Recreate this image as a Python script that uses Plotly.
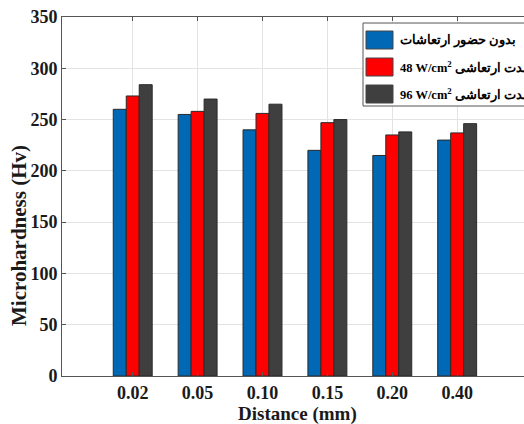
import plotly.graph_objects as go

# Measurement positions and microhardness readings (Hv)
distances = ["0.02", "0.05", "0.10", "0.15", "0.20", "0.40"]
hv_no_vibration = [260, 255, 240, 220, 215, 230]
hv_48 = [273, 258, 256, 247, 235, 237]
hv_96 = [284, 270, 265, 250, 238, 246]

series_names = [
    "بدون حضور ارتعاشات",
    "48 W/cm<sup>2</sup> شدت ارتعاشی",
    "96 W/cm<sup>2</sup> شدت ارتعاشی",
]
series_values = [hv_no_vibration, hv_48, hv_96]
series_colors = ["#0068b4", "#ff0000", "#3f3f3f"]

W, H = 524, 424
ML, MT, MB = 62, 17, 48
PLOT_R = W
FONT = "Liberation Serif, Times New Roman, DejaVu Serif, serif"

fig = go.Figure()
for name, vals, col in zip(series_names, series_values, series_colors):
    fig.add_trace(go.Bar(
        x=distances, y=vals, name=name,
        marker=dict(color=col, line=dict(color="#2a2a2a", width=1)),
        showlegend=False,
    ))

# Pixel -> paper coordinate helpers
def px_x(p):
    return (p - ML) / (PLOT_R - ML)

def px_y(p):
    return (H - MB - p) / (H - MB - MT)

# Legend drawn as a framed box with large swatches
shapes = [dict(type="rect", xref="paper", yref="paper",
               x0=px_x(363), x1=px_x(560), y0=px_y(106), y1=px_y(23),
               line=dict(color="#555555", width=1), fillcolor="white", layer="above")]
annotations = []
row_tops = [31, 58, 85]
for top, name, col in zip(row_tops, series_names, series_colors):
    shapes.append(dict(type="rect", xref="paper", yref="paper",
                       x0=px_x(366), x1=px_x(393), y0=px_y(top + 18), y1=px_y(top),
                       line=dict(color="#444444", width=1), fillcolor=col, layer="above"))
    annotations.append(dict(xref="paper", yref="paper", x=px_x(398), y=px_y(top + 9),
                            xanchor="left", yanchor="middle", text="<b>" + name + "</b>",
                            showarrow=False, font=dict(family=FONT, size=12.5, color="black")))

# Y-axis title
annotations.append(dict(xref="paper", yref="paper", x=px_x(19), y=px_y(236),
                        xanchor="center", yanchor="middle", textangle=-90,
                        text="<b>Microhardness (Hv)</b>", showarrow=False,
                        font=dict(family=FONT, size=21, color="#1a1a1a")))

# X-axis title
annotations.append(dict(xref="paper", yref="paper", x=px_x(297), y=px_y(414),
                        xanchor="center", yanchor="middle",
                        text="<b>Distance (mm)</b>", showarrow=False,
                        font=dict(family=FONT, size=19, color="#1a1a1a")))

fig.update_layout(
    template="none",
    width=W, height=H,
    margin=dict(l=ML, r=0, t=MT, b=MB, pad=0),
    paper_bgcolor="white", plot_bgcolor="white",
    barmode="group", bargap=0.4, bargroupgap=0,
    font=dict(family=FONT, color="black"),
    shapes=shapes, annotations=annotations,
)
fig.update_xaxes(
    type="category", range=[-1.09, 6.03], automargin=False,
    tickmode="array", tickvals=distances, ticktext=distances,
    showgrid=True, gridcolor="#e3e3e3", gridwidth=1,
    showline=True, linecolor="#555555", linewidth=1, mirror="allticks",
    ticks="inside", ticklen=4, tickcolor="#555555",
    tickfont=dict(family=FONT, size=18, color="#1a1a1a", weight="bold"),
)
fig.update_yaxes(
    range=[0, 350], tickvals=list(range(0, 351, 50)), automargin=False,
    showgrid=True, gridcolor="#e3e3e3", gridwidth=1, zeroline=False,
    showline=True, linecolor="#555555", linewidth=1, mirror=False,
    ticks="inside", ticklen=4, tickcolor="#555555",
    tickfont=dict(family=FONT, size=18, color="#1a1a1a", weight="bold"),
)

fig.write_html("out.html")
